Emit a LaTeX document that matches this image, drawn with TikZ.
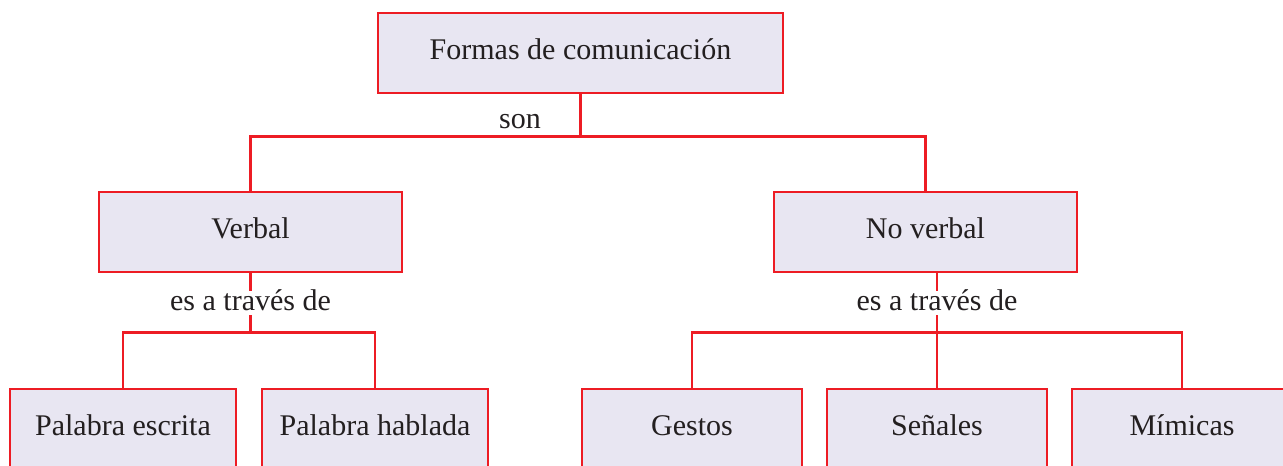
\documentclass[tikz,border=0pt]{standalone}
\usepackage{fontspec}
\setmainfont{Liberation Serif}
\usetikzlibrary{positioning}
\definecolor{marco}{RGB}{237,28,36}
\definecolor{relleno}{RGB}{232,230,242}
\definecolor{tinta}{RGB}{35,31,32}

\begin{document}
\begin{tikzpicture}[on grid,font=\fontsize{30}{36}\selectfont,text=tinta,
    box/.style={draw=marco,fill=relleno,line width=2.6pt,inner sep=0pt,
      minimum height=80pt,text height=21pt,text depth=7.5pt},
    link/.style={draw=marco,line width=2.4pt},
    lbl/.style={fill=white,inner xsep=2pt,inner ysep=0pt,text height=20pt,text depth=4pt}]
        \path[use as bounding box] (-580.5pt,53pt) rectangle (702.5pt,-413pt);
        \clip (-580.5pt,53pt) rectangle (702.5pt,-413pt);
        \node(root)[box,minimum width=405pt]{Formas de comunicación};
        \node(verbal)[box,minimum width=303pt,below left=179pt and 330pt of root]{Verbal};
        \node(noverbal)[box,minimum width=303pt,below right=179pt and 345pt of root]{No verbal};
        \node(escrita)[box,minimum width=226pt,below left=197pt and 127.5pt of verbal]{Palabra escrita};
        \node(hablada)[box,minimum width=226pt,right=252pt of escrita]{Palabra hablada};
        \node(gestos)[box,minimum width=220pt,below left=197pt and 233.5pt of noverbal]{Gestos};
        \node(senales)[box,minimum width=220pt,right=245pt of gestos]{Señales};
        \node(mimicas)[box,minimum width=220pt,right=245pt of senales]{Mímicas};
        \node(son)[lbl,fill=none] at ([xshift=-60.5pt,yshift=-26pt]root.south){son};
        \draw[link] (root.south) -- ++(0,-42pt) coordinate(j0);
        \draw[link] (j0) -| (verbal.north);
        \draw[link] (j0) -| (noverbal.north);
        \draw[link] (verbal.south) -- node[lbl]{es a través de} ++(0,-59pt) coordinate(j1);
        \draw[link] (j1) -| (escrita.north);
        \draw[link] (j1) -| (hablada.north);
        \draw[link] ([xshift=11.5pt]noverbal.south) -- node[lbl]{es a través de} ++(0,-59pt) coordinate(j2);
        \draw[link] (j2) -| (gestos.north);
        \draw[link] (j2) -- (senales.north);
        \draw[link] (j2) -| (mimicas.north);
      \end{tikzpicture}
\end{document}
